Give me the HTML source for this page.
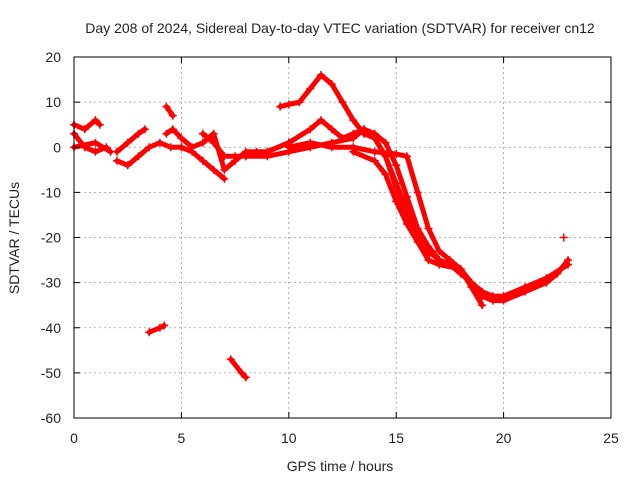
<!DOCTYPE html>
<html><head><meta charset="utf-8"><style>
body{margin:0;background:#fff}
svg text{font-family:"Liberation Sans",sans-serif;font-size:14px;fill:#222}
</style></head><body>
<svg width="640" height="480">
<rect width="640" height="480" fill="#fff"/>
<g id="grid"></g>
<g id="series"></g>
<rect x="74" y="57" width="537" height="361" fill="none" stroke="#000" stroke-width="1"/>
<g id="ticks"></g>
<text x="340" y="33" text-anchor="middle">Day 208 of 2024, Sidereal Day-to-day VTEC variation (SDTVAR) for receiver cn12</text>
<text x="340" y="471" text-anchor="middle">GPS time / hours</text>
<text transform="translate(19,238) rotate(-90)" text-anchor="middle">SDTVAR / TECUs</text>
</svg>
<script>
const xTicks=[0,5,10,15,20,25];
const yTicks=[20,10,0,-10,-20,-30,-40,-50,-60];
const traceA=[[9.6,9],[10,9.5],[10.5,10],[11,13],[11.5,16],[12,14],[12.5,10],[13,6],[13.5,3],[14,2],[14.5,-2],[15,-8],[15.5,-14],[16,-19],[16.5,-23],[17,-25],[17.5,-26]];
const traceB=[[9,-1],[10,1],[11,4],[11.5,6],[12,4],[12.5,2],[13,3],[13.5,4],[14,2],[14.5,-2],[15,-9],[15.5,-15],[16,-20],[16.5,-24]];
const traceC=[[8,-2],[9,-2],[10,-1],[11,0],[12,1],[13,2],[13.5,4],[14,3],[14.5,1],[15,-4],[15.5,-11],[16,-18],[16.5,-22],[17,-25],[17.5,-26],[18,-28],[18.5,-30],[19,-33],[19.5,-34],[20,-34],[21,-32],[22,-30],[22.5,-28],[23,-25]];
const traceD=[[10,0],[11,1],[12,0],[13,0],[14,-1],[15,-1.5],[15.5,-2],[16,-10],[16.5,-18],[17,-23],[17.5,-25],[18,-27],[18.5,-31],[19,-35]];
const traceE=[[13,-1],[14,-3],[14.5,-6],[15,-12],[15.5,-17],[16,-21],[16.5,-25],[17,-26],[18,-27],[18.5,-30],[19,-32],[19.5,-33],[20,-33],[21,-31],[22,-29],[23,-26]];
const traceF=[[0,5],[0.5,4],[1,6],[1.2,5]];
const traceG=[[0,3],[0.5,0],[1,-1],[1.5,0]];
const traceH=[[0,0],[1,1],[1.7,-1]];
const traceI=[[2,-1],[2.5,1],[3,3],[3.3,4]];
const traceJ=[[2,-3],[2.5,-4],[3,-2],[3.5,0],[4,1],[4.5,0],[5,0]];
const traceK=[[4.3,9],[4.6,7]];
const traceL=[[4.3,3],[4.6,4],[5,2],[5.5,0],[6,1],[6.5,3],[7,-5],[7.5,-3],[8,-1],[8.5,-1],[9,-1]];
const traceM=[[5,0],[5.5,-1],[6,-3],[6.5,-5],[7,-7]];
const traceN=[[6,3],[6.5,1],[7,-2],[7.5,-2],[8,-2],[9,-1],[10,1]];
const traceO=[[3.5,-41],[4,-40],[4.2,-39.5]];
const traceP=[[7.3,-47],[7.8,-50],[8,-51]];
const traceQ=[[22.8,-20]];
const traces=[traceA,traceB,traceC,traceD,traceE,traceF,traceG,traceH,traceI,traceJ,traceK,traceL,traceM,traceN,traceO,traceP,traceQ];
const NS="http://www.w3.org/2000/svg";
const X=v=>74+v*537/25, Y=v=>57+(20-v)*361/80;
const grid=document.getElementById('grid'),tk=document.getElementById('ticks'),sr=document.getElementById('series');
function mk(tag,at,parent){const e=document.createElementNS(NS,tag);for(const k in at)e.setAttribute(k,at[k]);parent.appendChild(e);return e;}
xTicks.forEach(t=>{
 if(t>0&&t<25){const g=mk('line',{x1:X(t),x2:X(t),y1:57,y2:418,stroke:'#999','stroke-dasharray':'2,3','stroke-width':0.8},grid);
 
 }
 mk('line',{x1:X(t),x2:X(t),y1:418,y2:412,stroke:'#000'},tk);
 mk('line',{x1:X(t),x2:X(t),y1:57,y2:63,stroke:'#000'},tk);
 const l=mk('text',{x:X(t),y:443,'text-anchor':'middle'},tk);l.textContent=t;
 
 
});
yTicks.forEach(t=>{
 if(t>-60&&t<20){const g=mk('line',{x1:74,x2:611,y1:Y(t),y2:Y(t),stroke:'#999','stroke-dasharray':'2,3','stroke-width':0.8},grid);
 
 }
 mk('line',{x1:74,x2:80,y1:Y(t),y2:Y(t),stroke:'#000'},tk);
 mk('line',{x1:611,x2:605,y1:Y(t),y2:Y(t),stroke:'#000'},tk);
 const l=mk('text',{x:61,y:Y(t)+5,'text-anchor':'end'},tk);l.textContent=t;
 
 
});
traces.forEach(tr=>{
 const p=mk('polyline',{points:tr.map(d=>X(d[0])+','+Y(d[1])).join(' '),fill:'none',stroke:'#f00','stroke-width':5,'stroke-linejoin':'round','stroke-linecap':'round'},sr);
 
 
 tr.forEach(d=>{
  const m=mk('path',{d:`M${X(d[0])-4},${Y(d[1])}h8M${X(d[0])},${Y(d[1])-4}v8`,stroke:'#f00','stroke-width':1.5},sr);
  
  
 });
});
</script>
</body></html>
